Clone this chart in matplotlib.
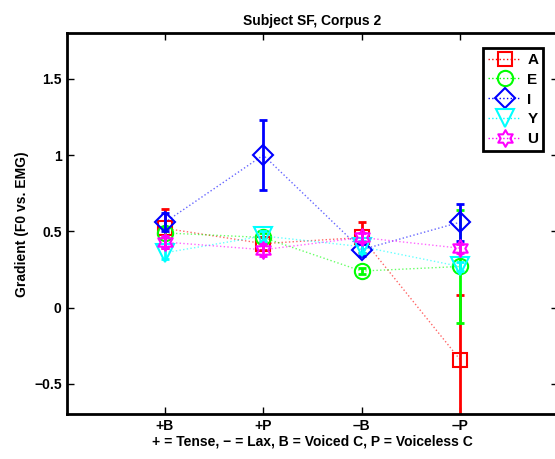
import numpy as np
import matplotlib
matplotlib.use('Agg')
import matplotlib.pyplot as plt
from matplotlib.path import Path

plt.rcParams['font.family'] = 'Liberation Sans'
plt.rcParams['font.weight'] = 'bold'

conditions = ['+B', '+P', '\u2013B', '\u2013P']
vowels = ['A', 'E', 'I', 'Y', 'U']
colors = ['red', 'lime', 'blue', 'cyan', 'magenta']

# gradient means and error bar half-widths per vowel, one value per condition
grad_A = [0.52, 0.42, 0.46, -0.34]
grad_E = [0.49, 0.46, 0.24, 0.27]
grad_I = [0.56, 1.00, 0.38, 0.56]
grad_Y = [0.36, 0.47, 0.40, 0.27]
grad_U = [0.43, 0.38, 0.46, 0.39]

err_A = [0.13, 0.04, 0.10, 0.42]
err_E = [0.03, 0.03, 0.02, 0.37]
err_I = [0.06, 0.23, 0.04, 0.12]
err_Y = [0.04, 0.03, 0.04, 0.03]
err_U = [0.04, 0.04, 0.03, 0.03]

# outline hexagram (star of David) marker
ang = np.pi / 2 + np.arange(12) * np.pi / 6
rad = np.where(np.arange(12) % 2 == 0, 1.0, 1 / np.sqrt(3))
verts = np.column_stack([rad * np.cos(ang), rad * np.sin(ang)])
verts = np.vstack([verts, verts[0]])
hexagram = Path(verts, [Path.MOVETO] + [Path.LINETO] * 11 + [Path.CLOSEPOLY])

markers = ['s', 'o', 'D', 'v', hexagram]
sizes = [10, 11, 10, 13, 12]
grads = [grad_A, grad_E, grad_I, grad_Y, grad_U]
errs = [err_A, err_E, err_I, err_Y, err_U]

fig = plt.figure(figsize=(5.55, 4.59), dpi=100)
ax = fig.add_axes([0.12, 0.097, 0.886, 0.831])

x = np.arange(1, len(conditions) + 1)
for g, e, c, m, s, name in zip(grads, errs, colors, markers, sizes, vowels):
    ax.plot(x, g, linestyle=':', color=c, linewidth=1, alpha=0.6)
    ax.errorbar(x, g, yerr=e, fmt='none', ecolor=c, elinewidth=2, capsize=3, capthick=2)
    ax.plot(x, g, linestyle='none', marker=m, markersize=s, markerfacecolor='none',
            markeredgecolor=c, markeredgewidth=1.5)
    ax.plot([], [], linestyle=':', color=c, linewidth=1, alpha=1, marker=m, markersize=s,
            markerfacecolor='none', markeredgecolor=c, markeredgewidth=1.5, label=name)

ax.set_xlim(0, 5)
ax.set_ylim(-0.7, 1.8)
ax.set_xticks(x)
ax.set_xticklabels(conditions)
ax.set_yticks([-0.5, 0, 0.5, 1, 1.5])
ax.set_yticklabels(['\u22120.5', '0', '0.5', '1', '1.5'])
ax.tick_params(direction='in', top=True, right=True, labelsize=10, width=1, length=5)
for sp in ax.spines.values():
    sp.set_linewidth(2)

ax.set_title('Subject SF, Corpus 2', fontsize=10, fontweight='bold')
ax.set_xlabel('+ = Tense, \u2212 = Lax, B = Voiced C, P = Voiceless C', fontsize=10,
              fontweight='bold', labelpad=1)
ax.set_ylabel('Gradient (F0 vs. EMG)', fontsize=10, fontweight='bold')

leg = ax.legend(loc='upper right', fontsize=11, handlelength=2.2, borderaxespad=1.0,
                labelspacing=0.38, fancybox=False, framealpha=1, handletextpad=0.4,
                borderpad=0.3)
leg.get_frame().set_edgecolor('black')
leg.get_frame().set_linewidth(2)

fig.savefig('out.png', dpi=100)
